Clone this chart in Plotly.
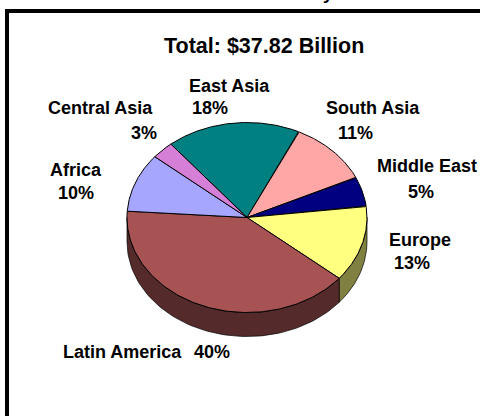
import numpy as np
import plotly.graph_objects as go

# Data
regions = ["East Asia", "South Asia", "Middle East", "Europe", "Latin America", "Africa", "Central Asia"]
shares = [18, 11, 5, 13, 40, 10, 3]
title_text = "Total: $37.82 Billion"

# Styles
top_colors = ["#008080", "#FFA6A6", "#000080", "#FFFF80", "#A85353", "#A6A6FF", "#D67FD6"]
side_colors = ["#004040", "#805353", "#000040", "#808040", "#542A2A", "#535380", "#6B406B"]
CX, CY, RX, RY, DEPTH = 247, 217.5, 120, 95, 24
START_DEG = -39.4
FONT = "Liberation Sans, Arial, sans-serif"
label_pos = {
    "East Asia": (229, 86, 210, 108),
    "South Asia": (373, 108, 355.5, 133),
    "Middle East": (427, 166, 421, 192),
    "Europe": (420, 240, 412, 263),
    "Latin America": (122, 352, 212, 352),
    "Africa": (76, 170, 75.5, 193),
    "Central Asia": (100, 108, 144, 133),
}

def ell(theta_deg, dy=0.0):
    t = np.radians(theta_deg)
    return CX + RX * np.sin(t), CY - RY * np.cos(t) + dy

fig = go.Figure()
edges = START_DEG + 3.6 * np.concatenate([[0], np.cumsum(shares)])

# side wall, only where the rim faces the viewer
for i in range(len(shares)):
    a, b = max(edges[i], 90), min(edges[i + 1], 270)
    if b <= a:
        continue
    th = np.linspace(a, b, 80)
    x1, y1 = ell(th)
    x2, y2 = ell(th[::-1], DEPTH)
    fig.add_trace(go.Scatter(
        x=np.r_[x1, x2, x1[0]], y=np.r_[y1, y2, y1[0]], mode="lines", fill="toself",
        fillcolor=side_colors[i], line=dict(color="#000000", width=0.7),
        hoverinfo="skip", showlegend=False))

# top face
for i in range(len(shares)):
    th = np.linspace(edges[i], edges[i + 1], 120)
    x, y = ell(th)
    fig.add_trace(go.Scatter(
        x=np.r_[CX, x, CX], y=np.r_[CY, y, CY], mode="lines", fill="toself",
        fillcolor=top_colors[i], line=dict(color="#000000", width=1),
        name=regions[i], text=f"{shares[i]}%", hoverinfo="name+text", showlegend=False))

ann = [dict(x=264, y=46, text=title_text, font=dict(size=21.5))]
for r, s in zip(regions, shares):
    lx, ly, px, py = label_pos[r]
    ann.append(dict(x=lx, y=ly, text=r))
    ann.append(dict(x=px, y=py, text=f"{s}%"))
for a in ann:
    a.update(xref="x", yref="y", showarrow=False, xanchor="center", yanchor="middle")
    a["font"] = dict(family=FONT, color="#000000", size=a.get("font", {}).get("size", 18), weight="bold")
# the only visible trace of a line cropped off above the frame
ann.append(dict(x=328 / 480, y=1 + 7 / 416, xref="paper", yref="paper", text="y", showarrow=False,
                xanchor="center", yanchor="middle",
                font=dict(family=FONT, color="#000000", size=18, weight="bold")))

fig.update_layout(
    width=480, height=416, margin=dict(l=0, r=0, t=0, b=0),
    paper_bgcolor="#FFFFFF", plot_bgcolor="#FFFFFF",
    xaxis=dict(range=[0, 480], visible=False, fixedrange=True),
    yaxis=dict(range=[416, 0], visible=False, fixedrange=True),
    annotations=ann,
    shapes=[
        dict(type="line", xref="x", yref="y", x0=7, x1=7, y0=9, y1=416, line=dict(color="#000000", width=4)),
        dict(type="line", xref="x", yref="y", x0=5, x1=480, y0=11, y1=11, line=dict(color="#000000", width=4)),
    ],
)
fig.write_html("out.html", config={"displayModeBar": False},
               post_script="document.body.style.margin='0';")
